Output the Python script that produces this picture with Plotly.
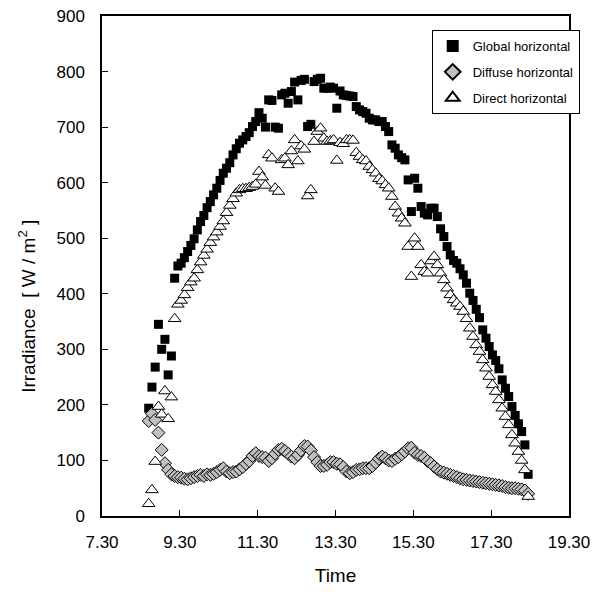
import pandas as pd
import plotly.graph_objects as go

# Logger samples: every 5 minutes from 08:42
sample_start = "2000-01-01 08:42"
sample_step = "5min"

global_horizontal = [
    194, 232, 268, 345, 300, 318, 254, 288, 428, 450,
    455, 465, 476, 487, 499, 515, 530, 541, 555, 566,
    578, 590, 604, 617, 626, 636, 650, 661, 671, 677,
    683, 690, 701, 710, 726, 716, 700, 749, 748, 700,
    698, 758, 761, 743, 764, 781, 749, 784, 786, 701,
    705, 782, 786, 788, 770, 770, 772, 770, 734, 765,
    758, 757, 756, 755, 737, 731, 728, 725, 716, 713,
    713, 710, 710, 701, 692, 668, 662, 650, 645, 641,
    605, 548, 608, 590, 557, 545, 542, 554, 554, 539,
    517, 503, 485, 470, 460, 455, 445, 434, 419, 401,
    388, 372, 357, 335, 320, 305, 290, 280, 265, 245,
    230, 215, 197, 181, 166, 152, 128, 75,
]

diffuse_horizontal = [
    171, 184, 173, 150, 119, 95, 83, 75, 72, 70,
    69, 67, 66, 68, 70, 72, 74, 72, 75, 74,
    76, 79, 83, 86, 80, 77, 79, 80, 84, 88,
    94, 99, 108, 113, 108, 106, 105, 99, 104, 112,
    119, 121, 117, 112, 107, 104, 110, 118, 126, 125,
    118, 106, 97, 90, 90, 92, 97, 97, 94, 93,
    88, 80, 77, 79, 83, 84, 86, 86, 86, 90,
    96, 103, 107, 104, 100, 99, 103, 106, 111, 116,
    122, 123, 114, 110, 108, 105, 99, 95, 89, 84,
    80, 78, 76, 74, 72, 70, 68, 66, 65, 64,
    63, 62, 61, 60, 59, 58, 57, 56, 55, 54,
    52, 51, 50, 50, 49, 48, 46, 40,
]

direct_horizontal = [
    22, 47, 98, 197, 183, 225, 175, 214, 355, 381,
    388, 398, 411, 421, 428, 443, 457, 469, 480, 492,
    502, 511, 521, 531, 546, 559, 571, 581, 587, 589,
    589, 591, 593, 597, 620, 610, 595, 650, 644, 590,
    584, 641, 644, 632, 657, 677, 639, 666, 660, 576,
    587, 674, 692, 698, 680, 674, 675, 677, 640, 672,
    670, 677, 677, 676, 654, 647, 641, 639, 629, 623,
    617, 607, 603, 596, 590, 575, 557, 545, 536, 527,
    485, 431, 500, 485, 452, 440, 437, 459, 467, 452,
    437, 425, 410, 398, 389, 383, 377, 368, 355, 338,
    323, 308, 296, 281, 266, 251, 236, 224, 209, 194,
    179, 164, 146, 131, 116, 100, 83, 35,
]

tick_times = ["07:30", "09:30", "11:30", "13:30", "15:30", "17:30", "19:30"]
tick_labels = ["7.30", "9.30", "11.30", "13.30", "15.30", "17.30", "19.30"]

times = pd.date_range(sample_start, periods=len(global_horizontal), freq=sample_step)
tick_vals = [f"2000-01-01 {t}" for t in tick_times]

FONT = "Liberation Sans, Arial, sans-serif"

fig = go.Figure()
fig.add_trace(go.Scatter(
    x=times, y=global_horizontal, mode="markers", name="Global horizontal",
    legendgroup="g", marker=dict(symbol="square", size=9, color="black",
                                 line=dict(width=0)),
))
fig.add_trace(go.Scatter(
    x=times, y=diffuse_horizontal, mode="markers", name="Diffuse horizontal",
    legendgroup="d", marker=dict(symbol="diamond", size=10, color="#c0c0c0",
                                 line=dict(width=1, color="black")),
))
fig.add_trace(go.Scatter(
    x=times, y=direct_horizontal, mode="markers", name="Direct horizontal",
    legendgroup="r", marker=dict(symbol="triangle-up", size=11, color="white",
                                 line=dict(width=1, color="black")),
))

fig.update_layout(
    width=597, height=592,
    margin=dict(l=102, r=28, t=16, b=76),
    paper_bgcolor="white", plot_bgcolor="white",
    font=dict(family=FONT, size=17, color="black"),
    showlegend=True,
    legend=dict(
        x=0.706, y=0.972, xanchor="left", yanchor="top",
        bgcolor="white", bordercolor="black", borderwidth=1,
        font=dict(size=13), traceorder="grouped", tracegroupgap=6,
        itemsizing="constant", itemwidth=30,
    ),
    xaxis=dict(
        type="date", automargin=False,
        range=["2000-01-01 07:30", "2000-01-01 19:30"],
        tickmode="array", tickvals=tick_vals, ticktext=tick_labels,
        ticks="inside", ticklen=6, tickwidth=1, tickcolor="black",
        showline=True, linecolor="black", linewidth=1.5, mirror=True,
        showgrid=False, zeroline=False,
        ticklabelstandoff=10,
        title=dict(text="Time", font=dict(size=19), standoff=18),
    ),
    yaxis=dict(
        automargin=False,
        range=[0, 900], dtick=100, tick0=0,
        ticks="inside", ticklen=6, tickwidth=1, tickcolor="black",
        showline=True, linecolor="black", linewidth=1.5, mirror=True,
        showgrid=False, zeroline=False,
        ticklabelstandoff=12,
    ),
    annotations=[dict(
        text="Irradiance  [ W / m<sup>2</sup> ]",
        xref="paper", yref="paper", x=-0.161, y=0.42,
        xanchor="center", yanchor="middle", textangle=-90,
        showarrow=False, font=dict(size=19),
    )],
)

fig.write_html("out.html")
